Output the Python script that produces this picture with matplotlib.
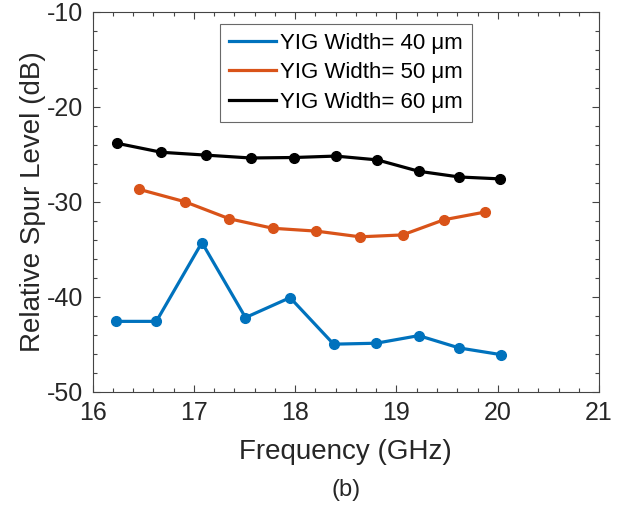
import numpy as np
import matplotlib.pyplot as plt
from matplotlib.ticker import MultipleLocator

plt.rcParams['font.family'] = ['Liberation Sans', 'DejaVu Sans']
plt.rcParams['axes.unicode_minus'] = False

# frecuencias (GHz) y nivel relativo de espurios (dB) para cada ancho de YIG
freq_40 = [16.23, 16.63, 17.08, 17.51, 17.95, 18.38, 18.80, 19.22, 19.62, 20.03]
spur_40 = [-42.6, -42.6, -34.3, -42.2, -40.1, -45.0, -44.9, -44.1, -45.4, -46.1]

freq_50 = [16.46, 16.91, 17.35, 17.78, 18.21, 18.64, 19.06, 19.47, 19.87]
spur_50 = [-28.7, -30.0, -31.8, -32.8, -33.1, -33.7, -33.5, -31.9, -31.1]

freq_60 = [16.24, 16.68, 17.12, 17.56, 17.99, 18.40, 18.81, 19.22, 19.62, 20.02]
spur_60 = [-23.85, -24.8, -25.1, -25.4, -25.35, -25.2, -25.6, -26.8, -27.4, -27.6]

etiquetas = ['YIG Width= 40 μm', 'YIG Width= 50 μm', 'YIG Width= 60 μm']
colores = ['#0072BD', '#D95319', '#000000']

fig = plt.figure(figsize=(6.28, 5.08), dpi=100)
ax = fig.add_axes([0.1473, 0.229, 0.8067, 0.748])

for f, s, c, lab in zip([freq_40, freq_50, freq_60], [spur_40, spur_50, spur_60], colores, etiquetas):
    ax.plot(f, s, '-o', color=c, lw=2.3, ms=7, label=lab)

ax.set_xlim(16, 21)
ax.set_ylim(-50, -10)
ax.xaxis.set_major_locator(MultipleLocator(1))
ax.xaxis.set_minor_locator(MultipleLocator(0.2))
ax.yaxis.set_major_locator(MultipleLocator(10))
ax.yaxis.set_minor_locator(MultipleLocator(2))
ax.tick_params(which='both', direction='in', top=True, right=True, colors='#444444', labelcolor='#262626', labelsize=18, width=0.8)
ax.tick_params(which='major', length=5, pad=7)
ax.tick_params(which='minor', length=3)
for sp in ax.spines.values():
    sp.set_color('#444444')
    sp.set_linewidth(0.8)

ax.set_xlabel('Frequency (GHz)', fontsize=20, color='#262626', labelpad=10)
ax.set_ylabel('Relative Spur Level (dB)', fontsize=20, color='#262626', labelpad=0)

# leyenda sin marcadores, solo la línea
leg = ax.legend(loc='upper center', bbox_to_anchor=(0.5, 0.968), fontsize=16, frameon=True, fancybox=False,
                edgecolor='#444444', handlelength=2.1, handletextpad=0.2, labelspacing=0.38, borderpad=0.4,
                borderaxespad=0)
leg.get_frame().set_linewidth(0.8)
for h in leg.legend_handles:
    h.set_marker('')

fig.text((0.1473 + 0.954) / 2, 18 / 508, '(b)', ha='center', va='center', fontsize=17, color='#262626')

fig.savefig('out.png', dpi=100)
